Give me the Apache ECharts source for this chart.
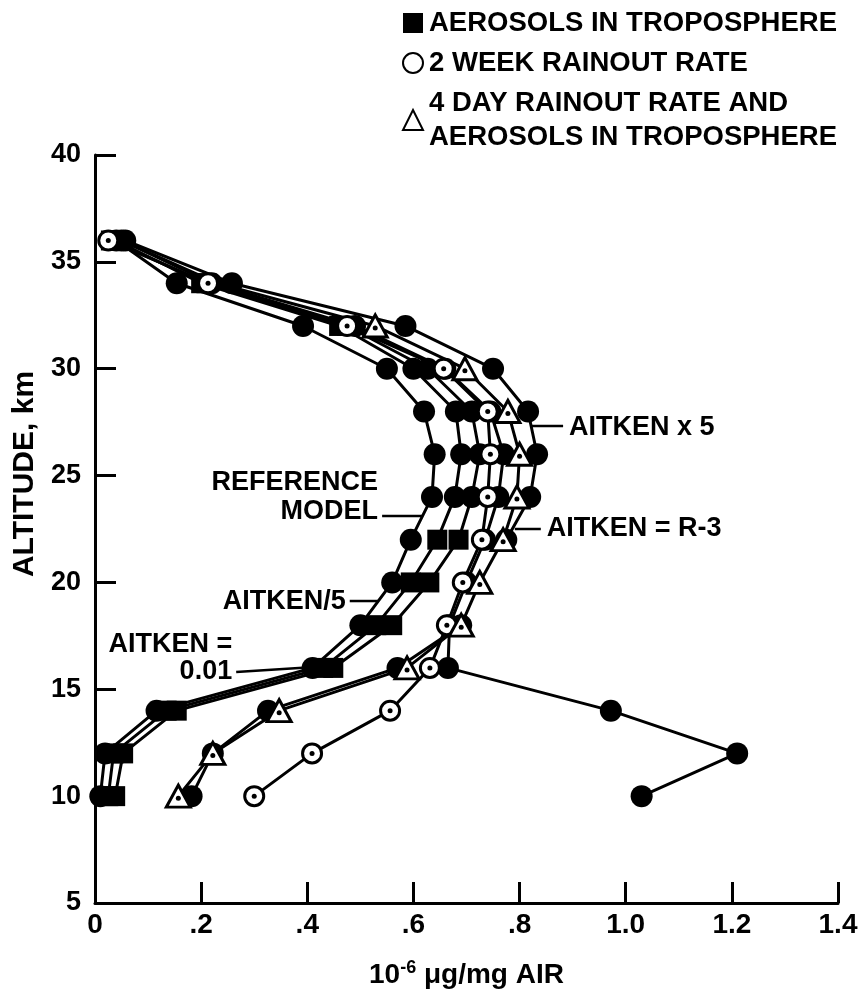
<!DOCTYPE html>
<html><head><meta charset="utf-8">
<script src="https://cdn.jsdelivr.net/npm/echarts@6/dist/echarts.min.js"></script>
<style>html,body{margin:0;padding:0;background:#fff}#c{width:859px;height:993px}</style>
</head><body><div id="c"></div>
<script>
// ---- data (altitude in km, concentration in 10^-6 ug/mg air) ----
const altitudes = [36, 34, 32, 30, 28, 26, 24, 22, 20, 18, 16, 14, 12, 10];
const aitken001      = [0.040, 0.154, 0.392, 0.550, 0.620, 0.640, 0.635, 0.595, 0.560, 0.500, 0.410, 0.116, 0.019, 0.010];
const aitkenDiv5Aer  = [0.040, 0.200, 0.460, 0.600, 0.680, 0.690, 0.678, 0.645, 0.595, 0.530, 0.430, 0.135, 0.035, 0.025];
const referenceAer   = [0.030, 0.210, 0.475, 0.627, 0.710, 0.725, 0.710, 0.685, 0.630, 0.560, 0.449, 0.154, 0.053, 0.038];
const rainout2wk     = [0.025, 0.213, 0.475, 0.657, 0.740, 0.745, 0.740, 0.729, 0.693, 0.663, 0.631, 0.556, 0.409, 0.300];
const referenceModel = [0.050, 0.220, 0.490, 0.660, 0.745, 0.770, 0.760, 0.735, 0.700, 0.668, 0.665, 0.972, 1.210, 1.030];
const rainout4dAer   = [0.050, 0.230, 0.528, 0.697, 0.778, 0.800, 0.795, 0.769, 0.725, 0.690, 0.588, 0.347, 0.222, 0.157];
const rainout4dAlt   = [18, 16, 14, 12, 10];
const rainout4d      = [0.690, 0.570, 0.326, 0.222, 0.182];
const aitkenX5Alt    = [36, 34, 32, 30, 28, 26, 24, 22];
const aitkenX5       = [0.057, 0.258, 0.585, 0.750, 0.816, 0.833, 0.820, 0.775];

const xTickLabels = ['0', '.2', '.4', '.6', '.8', '1.0', '1.2', '1.4'];
const yTicks = [5, 10, 15, 20, 25, 30, 35, 40];
const legendNames = ['AEROSOLS IN TROPOSPHERE', '2 WEEK RAINOUT RATE', '4 DAY RAINOUT RATE AND\nAEROSOLS IN TROPOSPHERE'];
const legendIcons = ['rect', 'circle', 'triangle'];

// curve annotations: text, leader start [x,y], leader end [x,y]
const annotations = [
  {text: 'REFERENCE\nMODEL', from: [0.541, 23.11], to: [0.618, 23.11], side: 'left', lh: 29, dy: -4},
  {text: 'AITKEN/5',          from: [0.480, 19.13], to: [0.533, 19.13], side: 'left', lh: 29, dy: 1},
  {text: 'AITKEN =\n0.01',    from: [0.266, 15.81], to: [0.443, 16.09], side: 'left', lh: 27, dy: 0},
  {text: 'AITKEN x 5',        from: [0.882, 27.32], to: [0.820, 27.32], side: 'right', lh: 29, dy: 2},
  {text: 'AITKEN = R-3',      from: [0.840, 22.50], to: [0.791, 22.50], side: 'right', lh: 29, dy: 0}
];

const FONT = '"Liberation Sans", Arial, Helvetica, sans-serif';
const NARROW = '"Liberation Sans Narrow", "Liberation Sans", Arial, sans-serif';

function pairs(xs, ys) { return xs.map((x, i) => [x, ys[i]]); }

const curves = [
  {name: 'AITKEN = 0.01', data: pairs(aitken001, altitudes), kind: 'filled'},
  {name: legendNames[0], data: pairs(aitkenDiv5Aer, altitudes), kind: 'square'},
  {name: legendNames[0], data: pairs(referenceAer, altitudes), kind: 'square'},
  {name: 'REFERENCE MODEL', data: pairs(referenceModel, altitudes), kind: 'filled'},
  {name: '4 DAY RAINOUT', data: pairs(rainout4d, rainout4dAlt), kind: 'filled'},
  {name: 'AITKEN x 5', data: pairs(aitkenX5, aitkenX5Alt), kind: 'filled'},
  {name: legendNames[1], data: pairs(rainout2wk, altitudes), kind: 'open'},
  {name: legendNames[2], data: pairs(rainout4dAer, altitudes), kind: 'tri'}
];

const series = [];
curves.forEach(c => {
  series.push({
    type: 'line', name: c.name + ' line', data: c.data, symbol: 'none', showSymbol: false,
    lineStyle: {color: '#000', width: 3, opacity: 1}, z: 2, silent: true, animation: false
  });
});
curves.forEach(c => {
  let s = {type: 'scatter', name: c.name, data: c.data, silent: true, animation: false};
  if (c.kind === 'filled') Object.assign(s, {symbol: 'circle', symbolSize: 22, itemStyle: {color: '#000', opacity: 1}, z: 3});
  // tropospheric-aerosol curves: squares in the lower part, round dots higher up
  if (c.kind === 'square') Object.assign(s, {symbol: v => (v[1] <= 22 || v[1] >= 32) ? 'rect' : 'circle',
    symbolSize: v => (v[1] <= 22 || v[1] >= 32) ? 20 : 22, itemStyle: {color: '#000', opacity: 1}, z: 4});
  if (c.kind === 'open') Object.assign(s, {symbol: 'circle', symbolSize: 19, itemStyle: {color: '#fff', borderColor: '#000', borderWidth: 3, opacity: 1}, z: 5});
  if (c.kind === 'tri') Object.assign(s, {symbol: v => v[1] <= 32 ? 'triangle' : 'none', symbolSize: [24, 22],
    itemStyle: {color: '#fff', borderColor: '#000', borderWidth: 3, opacity: 1}, z: 5});
  series.push(s);
  if (c.kind === 'open' || c.kind === 'tri') {
    series.push({type: 'scatter', name: c.name + ' dot', data: c.kind === 'tri' ? c.data.filter(d => d[1] <= 32) : c.data,
      symbol: 'circle', symbolSize: 5, symbolOffset: c.kind === 'tri' ? [0, 2] : [0, 0],
      itemStyle: {color: '#000', opacity: 1}, z: 6, silent: true, animation: false});
  }
});

const chart = echarts.init(document.getElementById('c'), null, {renderer: 'canvas'});
chart.setOption({
  animation: false,
  backgroundColor: '#fff',
  grid: {left: 95, right: 21, top: 155, bottom: 90, outerBoundsMode: 'none', containLabel: false},
  legend: {
    data: legendNames.map((n, i) => ({name: n, icon: legendIcons[i]})),
    orient: 'vertical', left: 397, top: 1, itemGap: 6,
    itemWidth: 20, itemHeight: 20, selectedMode: false,
    itemStyle: {opacity: 1},
    textStyle: {fontFamily: FONT, fontWeight: 'bold', fontSize: 27.5, color: '#000', lineHeight: 34, padding: [0, 0, 0, 1]}
  },
  xAxis: {
    type: 'value', min: 0, max: 1.4, interval: 0.2,
    axisLine: {show: true, lineStyle: {color: '#000', width: 3}},
    axisTick: {show: true, inside: true, length: 21, lineStyle: {color: '#000', width: 3}},
    splitLine: {show: false},
    axisLabel: {
      margin: 8, color: '#000', fontFamily: NARROW, fontWeight: 'bold', fontSize: 28,
      formatter: v => xTickLabels[Math.round(v / 0.2)]
    },
    name: '{a|10}{s|-6}{a| \u03bcg/mg AIR}', nameLocation: 'middle', nameGap: 56,
    nameTextStyle: {rich: {
      a: {fontFamily: NARROW, fontWeight: 'bold', fontSize: 28, color: '#000'},
      s: {fontFamily: NARROW, fontWeight: 'bold', fontSize: 18, color: '#000', verticalAlign: 'top', padding: [0, 0, 14, 0]}
    }}
  },
  yAxis: {
    type: 'value', min: yTicks[0], max: yTicks[yTicks.length - 1], interval: 5,
    axisLine: {show: true, lineStyle: {color: '#000', width: 3}},
    axisTick: {show: true, inside: true, length: 21, lineStyle: {color: '#000', width: 3}},
    splitLine: {show: false},
    axisLabel: {margin: 14, color: '#000', fontFamily: FONT, fontWeight: 'bold', fontSize: 27},
    name: 'ALTITUDE, km', nameLocation: 'middle', nameGap: 52, nameRotate: 90,
    nameTextStyle: {fontFamily: FONT, fontWeight: 'bold', fontSize: 30, color: '#000', padding: [0, 0, 0, 110]}
  },
  series: series
});

// annotations anchored to data coordinates; last text line centred on the leader line
const graphics = [];
annotations.forEach(a => {
  const p1 = chart.convertToPixel({gridIndex: 0}, a.from);
  const p2 = chart.convertToPixel({gridIndex: 0}, a.to);
  graphics.push({type: 'line', shape: {x1: p1[0], y1: p1[1], x2: p2[0], y2: p2[1]},
    style: {stroke: '#000', lineWidth: 2.5}, z: 10});
  const n = a.text.split('\n').length;
  graphics.push({type: 'text', z: 10,
    x: a.side === 'left' ? p1[0] - 4 : p1[0] + 6,
    y: p1[1] + a.dy - a.lh / 2 - (n - 1) * a.lh,
    style: {text: a.text, fill: '#000', font: 'bold 27px ' + FONT, lineHeight: a.lh,
      align: a.side === 'left' ? 'right' : 'left', verticalAlign: 'top'}
  });
});
chart.setOption({graphic: graphics});
</script>
</body></html>
